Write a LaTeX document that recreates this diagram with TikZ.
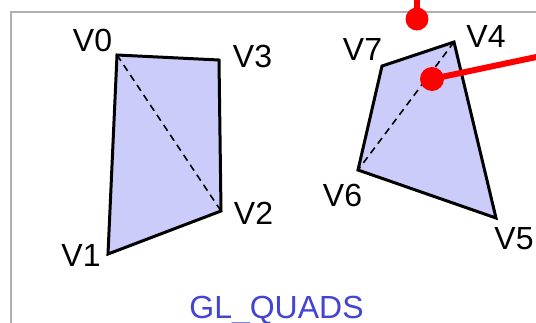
\documentclass[tikz,border=0pt]{standalone}
\usepackage{fontspec}
\setmainfont{Liberation Sans}
\usepackage{xcolor}
\usetikzlibrary{arrows.meta,calc}
\definecolor{quadfill}{RGB}{204,204,250}
\definecolor{labelblue}{RGB}{68,68,212}
\definecolor{framegray}{RGB}{176,176,176}
\tikzset{
  frame/.style={draw=framegray, line width=1.3pt},
  quad/.style={draw=black, fill=quadfill, line width=3pt, line join=miter},
  diag/.style={draw=black, line width=1.6pt, dash pattern=on 7pt off 5pt},
  vlabel/.style={inner sep=0pt, font=\fontsize{32}{36}\selectfont},
  pointer/.style={draw=red, line width=6pt},
  handle/.style={fill=red},
}

\begin{document}
\begin{tikzpicture}[x=1pt,y=-1pt]
  \useasboundingbox (0,0) rectangle (536,322);
  \clip (0,0) rectangle (536,322);
  \fill[white] (0,0) rectangle (536,322);
  \draw[frame] (11,340) -- (11,12) -- (560,12);
  % left quad
  \coordinate (v0) at (117,55);
  \coordinate (v1) at (108,254);
  \coordinate (v2) at (221,211);
  \coordinate (v3) at (219,60);
  \draw[quad] (v0) -- (v1) -- (v2) -- (v3) -- cycle;
  \draw[diag] (v0) -- (v2);
  % right quad
  \coordinate (v4) at (454,42);
  \coordinate (v5) at (496,218);
  \coordinate (v6) at (358,170);
  \coordinate (v7) at (382,66);
  \draw[quad] (v4) -- (v5) -- (v6) -- (v7) -- cycle;
  \draw[diag] (v4) -- (v6);
  % vertex names
  \node[vlabel] (l0) at (92.5,40.5) {V0};
  \node[vlabel] (l1) at (81,255) {V1};
  \node[vlabel] (l2) at (253.5,213.5) {V2};
  \node[vlabel] (l3) at (252.5,56) {V3};
  \node[vlabel] (l4) at (486,36.5) {V4};
  \node[vlabel] (l5) at (514,239) {V5};
  \node[vlabel] (l6) at (342.5,195) {V6};
  \node[vlabel] (l7) at (362.5,49) {V7};
  \node[vlabel, text=labelblue, anchor=base] (title) at (276.5,318) {GL\_QUADS};
  % red handles
  \coordinate (h1) at (417,19);
  \coordinate (h1end) at (417,-10);
  \coordinate (h2) at (432,79);
  \coordinate (h2end) at (560,52);
  \draw[pointer] (h1) -- (h1end);
  \draw[pointer] (h2) -- (h2end);
  \fill[handle] (h1) circle (11.5);
  \fill[handle] (h2) circle (12);
\end{tikzpicture}
\end{document}
